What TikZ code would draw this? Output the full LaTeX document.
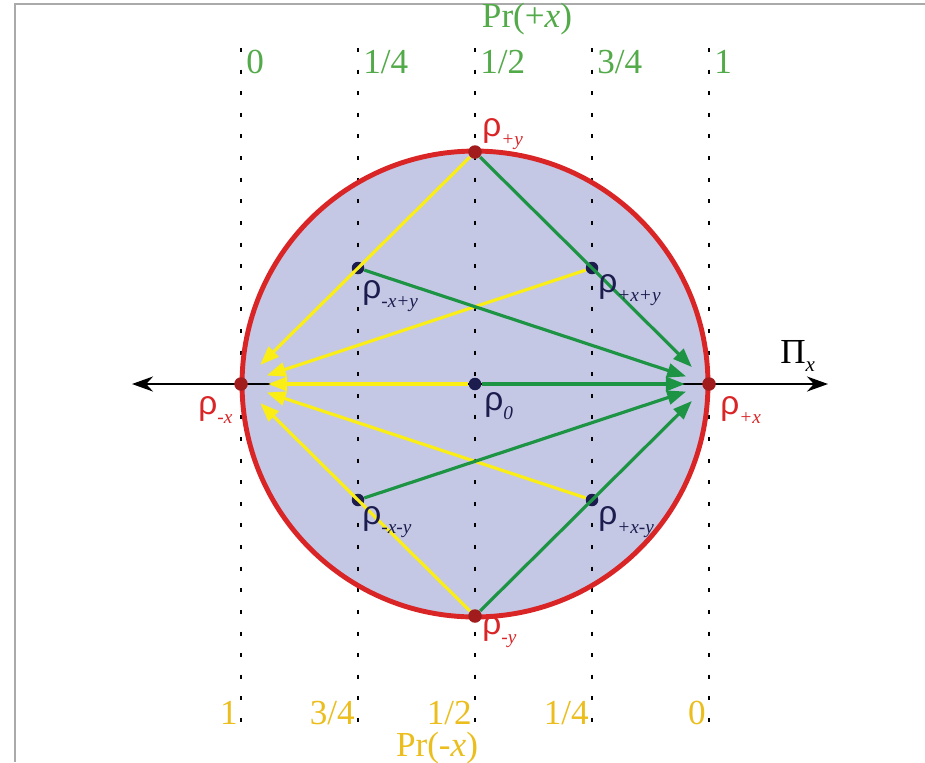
\documentclass[tikz,border=0pt]{standalone}
\usepackage{fontspec}
\setmainfont{Liberation Serif}
\newfontfamily\rhofont{Liberation Sans}
\usetikzlibrary{arrows.meta}
\definecolor{DiskFill}{RGB}{196,200,228}
\definecolor{DiskRed}{RGB}{218,37,39}
\definecolor{ArrowGreen}{RGB}{28,148,68}
\definecolor{ArrowYellow}{RGB}{250,238,22}
\definecolor{LabelGreen}{RGB}{82,170,72}
\definecolor{LabelGold}{RGB}{235,190,30}
\definecolor{DotNavy}{RGB}{28,28,78}
\definecolor{FrameGray}{RGB}{170,170,170}
\newcommand{\rlab}[1]{{\rhofont ρ}\raisebox{-0.55ex}{\fontsize{11}{11}\selectfont\itshape #1}}

\begin{document}
\begin{tikzpicture}[x=0.02cm,y=-0.02cm,
    dot/.style={circle,fill=DotNavy,inner sep=0pt,minimum size=0.25cm},
    rdot/.style={circle,fill=DiskRed!75!black,inner sep=0pt,minimum size=0.27cm},
    guide/.style={line width=1.2pt,dash pattern=on 2.3pt off 10pt},
    garrow/.style={draw=ArrowGreen,line width=1.8pt,-{Triangle[length=0.38cm,width=0.28cm]},shorten >=0.34cm},
    yarrow/.style={draw=ArrowYellow,line width=1.8pt,-{Triangle[length=0.38cm,width=0.28cm]},shorten >=0.4cm},
    lab/.style={font=\fontsize{20}{22}\selectfont,inner sep=0pt},
    rholab/.style={font=\fontsize{19}{21}\selectfont,inner sep=0pt,anchor=west}]
    \useasboundingbox (0,0) rectangle (925,762);
    \draw[FrameGray,line width=1pt] (925,4) -- (15,4) -- (15,762);
    \fill[DiskFill] (475,384) circle[radius=4.66cm];
    \draw[guide] (241,48) -- (241,732);
    \draw[guide] (358,48) -- (358,732);
    \draw[guide] (475,48) -- (475,732);
    \draw[guide] (592,48) -- (592,732);
    \draw[guide] (709,48) -- (709,732);
    \coordinate (axl) at (132,384);
    \coordinate (axr) at (828,384);
    \draw[line width=1.3pt,{Stealth[length=0.42cm,width=0.3cm]}-{Stealth[length=0.42cm,width=0.3cm]}] (axl) -- (axr);
    \draw[DiskRed,line width=2.8pt] (475,384) circle[radius=4.66cm];

    \node[rdot] (py) at (475,152) {};
    \node[rdot] (my) at (475,616) {};
    \node[rdot] (px) at (709,384) {};
    \node[rdot] (mx) at (241,384) {};
    \node[dot] (r0) at (475,384) {};
    \node[dot] (mxpy) at (358,268) {};
    \node[dot] (pxpy) at (592,268) {};
    \node[dot] (mxmy) at (358,500) {};
    \node[dot] (pxmy) at (592,500) {};

    \draw[yarrow] (py) -- (mx);
    \draw[yarrow] (my) -- (mx);
    \draw[yarrow] (pxpy) -- (mx);
    \draw[yarrow] (r0) -- (mx);
    \draw[yarrow] (pxmy) -- (mx);
    \draw[garrow] (py) -- (px);
    \draw[garrow] (my) -- (px);
    \draw[garrow] (mxpy) -- (px);
    \draw[garrow] (r0) -- (px);
    \draw[garrow] (mxmy) -- (px);

    \node[rholab,text=DiskRed] (lpy) at (482,134) {\rlab{+y}};
    \node[rholab,text=DiskRed] (lmy) at (482,632) {\rlab{-y}};
    \node[rholab,text=DiskRed] (lmx) at (198,410) {\rlab{-x}};
    \node[rholab,text=DiskRed] (lpx) at (720,410) {\rlab{+x}};
    \node[rholab,text=DotNavy] (lr0) at (484,406) {\rlab{0}};
    \node[rholab,text=DotNavy] (lmxpy) at (362,296) {\rlab{-x+y}};
    \node[rholab,text=DotNavy] (lpxpy) at (598,290) {\rlab{+x+y}};
    \node[rholab,text=DotNavy] (lmxmy) at (362,522) {\rlab{-x-y}};
    \node[rholab,text=DotNavy] (lpxmy) at (598,522) {\rlab{+x-y}};
    \node[lab,anchor=west] (pil) at (780,356) {Π\raisebox{-0.55ex}{\fontsize{12}{12}\selectfont\itshape x}};

    \node[lab,text=LabelGreen] (prp) at (527,19) {Pr(+\textit{x})};
    \node[lab,text=LabelGreen,anchor=west] (t0) at (246,62) {0};
    \node[lab,text=LabelGreen,anchor=west] (t1) at (363,62) {1/4};
    \node[lab,text=LabelGreen,anchor=west] (t2) at (480,62) {1/2};
    \node[lab,text=LabelGreen,anchor=west] (t3) at (597,62) {3/4};
    \node[lab,text=LabelGreen,anchor=west] (t4) at (714,62) {1};
    \node[lab,text=LabelGold,anchor=east] (b0) at (238,713) {1};
    \node[lab,text=LabelGold,anchor=east] (b1) at (355,713) {3/4};
    \node[lab,text=LabelGold,anchor=east] (b2) at (472,713) {1/2};
    \node[lab,text=LabelGold,anchor=east] (b3) at (589,713) {1/4};
    \node[lab,text=LabelGold,anchor=east] (b4) at (706,713) {0};
    \node[lab,text=LabelGold] (prm) at (437,748) {Pr(-\textit{x})};
\end{tikzpicture}
\end{document}
